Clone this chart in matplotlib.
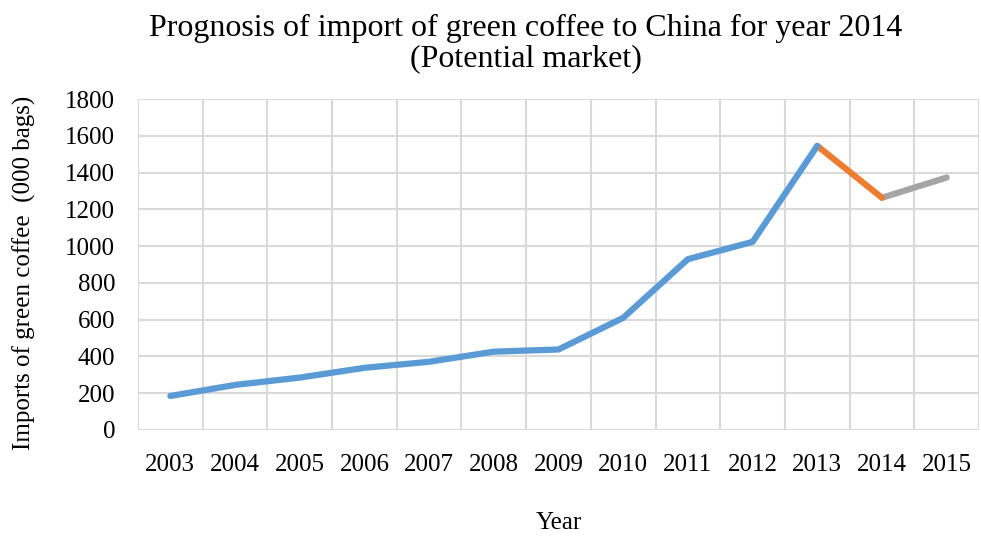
import matplotlib
matplotlib.use("Agg")
import matplotlib.pyplot as plt
import numpy as np

years = ["2003", "2004", "2005", "2006", "2007", "2008", "2009",
         "2010", "2011", "2012", "2013", "2014", "2015"]
actual = [185, 245, 285, 338, 371, 426, 438, 610, 929, 1023, 1545]
prognosis = [1545, 1263]
potential = [1263, 1373]
yticks = [0, 200, 400, 600, 800, 1000, 1200, 1400, 1600, 1800]

plt.rcParams['font.family'] = ['Liberation Serif', 'DejaVu Serif']

fig = plt.figure(figsize=(9.81, 5.38), dpi=100)
ax = fig.add_axes([138/981, 1-430/538, (979-138)/981, (430-99)/538])

x = np.arange(len(years))
ax.plot(x[11:13], potential, color='#A5A5A5', lw=4.5, solid_capstyle='round', zorder=3)
ax.plot(x[10:12], prognosis, color='#ED7D31', lw=4.5, solid_capstyle='round', zorder=4)
ax.plot(x[:11], actual, color='#5B9BD5', lw=4.5, solid_capstyle='round', zorder=5)

ax.set_xlim(-0.5, len(years) - 0.5)
ax.set_ylim(0, 1800)
ax.set_yticks(yticks)
ax.set_xticks(x)
ax.set_xticklabels(years)
ax.set_xticks(np.arange(-0.5, len(years), 1.0), minor=True)
ax.grid(True, which='minor', axis='x', color='#D9D9D9', lw=1.5)
ax.grid(True, which='major', axis='y', color='#D9D9D9', lw=1.5)
ax.grid(False, which='major', axis='x')
ax.tick_params(axis='both', which='both', length=0, labelsize=18, colors='black')
ax.tick_params(axis='x', pad=17)
ax.tick_params(axis='y', pad=16.5)
for s in ax.spines.values():
    s.set_visible(False)
ax.set_axisbelow(True)

ax.set_xlabel("Year", fontsize=18, labelpad=26)
ax.set_ylabel("Imports of green coffee  (000 bags)", fontsize=18, labelpad=21)
ax.yaxis.label.set_y(0.475)
fig.text(526/981, 1-28/538, "Prognosis of import of green coffee to China for year 2014",
         fontsize=23, ha='center', va='center')
fig.text(526/981, 1-59/538, "(Potential market)",
         fontsize=23, ha='center', va='center')

fig.savefig("out.png", dpi=100)
